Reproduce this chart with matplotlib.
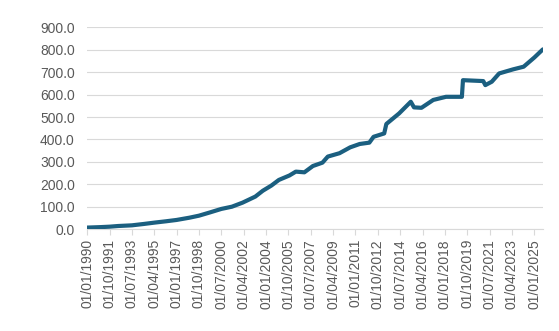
import numpy as np
import pandas as pd
import matplotlib
matplotlib.use('Agg')
import matplotlib.pyplot as plt

# values
dates = ['1990-01', '1991-01', '1991-10', '1992-06', '1993-07', '1994-06',
         '1995-04', '1996-03', '1997-01', '1998-01', '1998-10', '1999-08',
         '2000-07', '2001-05', '2002-03', '2003-03', '2003-10', '2004-06',
         '2005-01', '2005-11', '2006-05', '2007-01', '2007-09', '2008-06',
         '2008-11', '2009-10', '2010-08', '2011-05', '2012-02', '2012-06',
         '2013-04', '2013-06', '2014-06', '2015-05', '2015-08', '2016-03',
         '2017-02', '2018-02', '2019-05', '2019-06', '2021-01', '2021-03',
         '2021-09', '2022-04', '2023-05', '2024-03', '2025-01', '2025-09']
values = [8, 10, 12, 15, 18, 24,
          30, 36, 42, 52, 61, 75,
          91, 101, 119, 146, 172, 195,
          220, 240, 257, 254, 282, 297,
          324, 339, 365, 380, 386, 412,
          427, 469, 516, 568, 543, 541,
          576, 590, 590, 664, 660, 642,
          657, 694, 712, 724, 765, 801]

tick_dates = pd.date_range('1990-01-01', '2025-01-01', freq='21MS')
y_ticks = np.arange(0, 901, 100)

x = pd.to_datetime(dates)

fig = plt.figure(figsize=(5.59, 3.31), dpi=100)
ax = fig.add_axes([0.156, 0.307, 0.816, 0.611])

ax.plot(x, values, color='#1b5f80', lw=3.0, solid_capstyle='round',
        solid_joinstyle='round', zorder=3)

ax.set_ylim(0, 900)
ax.set_yticks(y_ticks)
ax.set_yticklabels([f'{v:.1f}' for v in y_ticks])
ax.set_xlim(pd.Timestamp('1990-01-01'), pd.Timestamp('2025-09-15'))
ax.set_xticks(tick_dates)
ax.set_xticklabels([d.strftime('%d/%m/%Y') for d in tick_dates], rotation=90)

ax.grid(axis='y', color='#d9d9d9', lw=0.8)
ax.set_axisbelow(True)
for s in ['top', 'right', 'left']:
    ax.spines[s].set_visible(False)
ax.spines['bottom'].set_color('#d9d9d9')
ax.tick_params(axis='y', length=0, pad=9, labelsize=10, labelcolor='#595959')
ax.tick_params(axis='x', length=4, color='#d9d9d9', pad=3, labelsize=10,
               labelcolor='#595959')
for t in ax.get_xticklabels() + ax.get_yticklabels():
    t.set_fontfamily('Liberation Sans')

fig.savefig('out.png', dpi=100)
